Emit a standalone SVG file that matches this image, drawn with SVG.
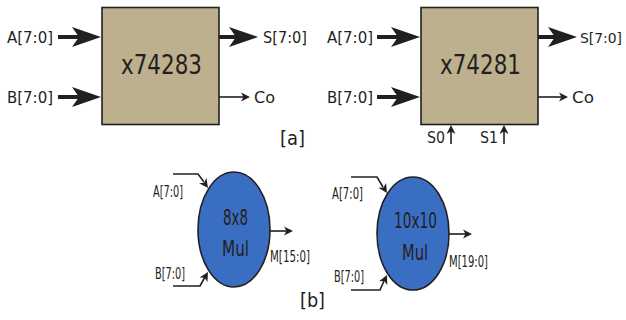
<svg xmlns="http://www.w3.org/2000/svg" xmlns:xlink="http://www.w3.org/1999/xlink" width="626" height="320" viewBox="0 0 626 320">
<style>
text{font-family:"DejaVu Sans","Liberation Sans",sans-serif;fill:#231f20;}
.lbl{font-size:16px;}
.big{font-size:26px;}
.sm{font-size:15px;}
.mid{font-size:20px;}
.ml{font-size:22px;}
.box{fill:#bdb08e;stroke:#231f20;stroke-width:1.6;}
.ell{fill:#3a6ec3;stroke:#231f20;stroke-width:1.6;}
.thick{stroke:#231f20;stroke-width:4;fill:none;}
.thin{stroke:#231f20;stroke-width:1.6;fill:none;}
.head{fill:#231f20;}
</style>
<defs>
<path id="bigHead" d="M0,0 L-29,-10 L-22,0 L-29,10 Z"/>
<path id="smHead" d="M0,0 L-9,-4.5 L-6.5,0 L-9,4.5 Z"/>
</defs>
<rect width="626" height="320" fill="#fff"/>
<g id="adder74283">
<rect class="box" x="102" y="7.5" width="117" height="117"/>
<text class="big" x="121" y="74" textLength="81" lengthAdjust="spacingAndGlyphs">x74283</text>
</g>
<g id="alu74281">
<rect class="box" x="421" y="7.5" width="117" height="117"/>
<text class="big" x="440" y="74" textLength="81" lengthAdjust="spacingAndGlyphs">x74281</text>
</g>
<g id="mul8x8">
<ellipse class="ell" cx="234" cy="229.5" rx="36" ry="57.5"/>
<text class="ml" x="223" y="225" textLength="25" lengthAdjust="spacingAndGlyphs">8x8</text>
<text class="ml" x="222" y="256" textLength="27" lengthAdjust="spacingAndGlyphs">Mul</text>
</g>
<g id="mul10x10">
<ellipse class="ell" cx="413" cy="233.5" rx="36" ry="56.5"/>
<text class="ml" x="394" y="228" textLength="43" lengthAdjust="spacingAndGlyphs">10x10</text>
<text class="ml" x="402" y="260" textLength="26" lengthAdjust="spacingAndGlyphs">Mul</text>
</g>
<g id="connectors">
<line class="thick" x1="58" y1="37" x2="82" y2="37"/>
<use xlink:href="#bigHead" class="head" transform="translate(101,37)"/>
<line class="thick" x1="58" y1="97" x2="82" y2="97"/>
<use xlink:href="#bigHead" class="head" transform="translate(101,97)"/>
<line class="thick" x1="219" y1="37" x2="238" y2="37"/>
<use xlink:href="#bigHead" class="head" transform="translate(258,37)"/>
<line class="thin" x1="219" y1="97" x2="244" y2="97"/>
<use xlink:href="#smHead" class="head" transform="translate(250,97)"/>

<line class="thick" x1="377" y1="37" x2="401" y2="37"/>
<use xlink:href="#bigHead" class="head" transform="translate(420,37)"/>
<line class="thick" x1="377" y1="97" x2="401" y2="97"/>
<use xlink:href="#bigHead" class="head" transform="translate(420,97)"/>
<line class="thick" x1="538" y1="37" x2="558" y2="37"/>
<use xlink:href="#bigHead" class="head" transform="translate(577,37)"/>
<line class="thin" x1="538" y1="97" x2="562" y2="97"/>
<use xlink:href="#smHead" class="head" transform="translate(568,97)"/>
<line class="thin" x1="451" y1="144" x2="451" y2="130"/>
<use xlink:href="#smHead" class="head" transform="translate(451,125) rotate(-90)"/>
<line class="thin" x1="504" y1="144" x2="504" y2="130"/>
<use xlink:href="#smHead" class="head" transform="translate(504,125) rotate(-90)"/>

<polyline class="thin" points="173,174 198,174 204,182"/>
<use xlink:href="#smHead" class="head" transform="translate(208,188) rotate(54.5)"/>
<polyline class="thin" points="173,286 200,286 205,277"/>
<use xlink:href="#smHead" class="head" transform="translate(208,272) rotate(-60)"/>
<line class="thin" x1="270" y1="231" x2="287" y2="231"/>
<use xlink:href="#smHead" class="head" transform="translate(293,231)"/>

<polyline class="thin" points="351,177 377,177 383,187"/>
<use xlink:href="#smHead" class="head" transform="translate(387,193) rotate(58)"/>
<polyline class="thin" points="351,290 380,290 384,281"/>
<use xlink:href="#smHead" class="head" transform="translate(387,275) rotate(-65)"/>
<line class="thin" x1="449" y1="234" x2="466" y2="234"/>
<use xlink:href="#smHead" class="head" transform="translate(472,234)"/>
</g>
<g id="labels">
<text class="lbl" x="7" y="43" textLength="46" lengthAdjust="spacingAndGlyphs">A[7:0]</text>
<text class="lbl" x="7" y="103" textLength="46" lengthAdjust="spacingAndGlyphs">B[7:0]</text>
<text class="lbl" x="263" y="43" textLength="44" lengthAdjust="spacingAndGlyphs">S[7:0]</text>
<text class="lbl" x="254" y="103" textLength="21" lengthAdjust="spacingAndGlyphs">Co</text>
<text class="mid" x="280" y="145" textLength="25" lengthAdjust="spacingAndGlyphs">[a]</text>
<text class="lbl" x="327" y="43" textLength="46" lengthAdjust="spacingAndGlyphs">A[7:0]</text>
<text class="lbl" x="327" y="103" textLength="46" lengthAdjust="spacingAndGlyphs">B[7:0]</text>
<text class="lbl" x="580" y="43" style="font-size:14.5px" textLength="42" lengthAdjust="spacingAndGlyphs">S[7:0]</text>
<text class="lbl" x="572" y="103" textLength="22" lengthAdjust="spacingAndGlyphs">Co</text>
<text class="lbl" x="427" y="143" textLength="18" lengthAdjust="spacingAndGlyphs">S0</text>
<text class="lbl" x="480" y="143" textLength="18" lengthAdjust="spacingAndGlyphs">S1</text>
<text class="sm" x="153" y="197" textLength="30" lengthAdjust="spacingAndGlyphs">A[7:0]</text>
<text class="sm" x="155" y="279" textLength="30" lengthAdjust="spacingAndGlyphs">B[7:0]</text>
<text class="sm" x="270" y="262" textLength="40" lengthAdjust="spacingAndGlyphs">M[15:0]</text>
<text class="mid" x="300" y="307" textLength="25" lengthAdjust="spacingAndGlyphs">[b]</text>
<text class="sm" x="332" y="199" textLength="31" lengthAdjust="spacingAndGlyphs">A[7:0]</text>
<text class="sm" x="334" y="282" textLength="30" lengthAdjust="spacingAndGlyphs">B[7:0]</text>
<text class="sm" x="449" y="267" textLength="39" lengthAdjust="spacingAndGlyphs">M[19:0]</text>
</g>
</svg>
